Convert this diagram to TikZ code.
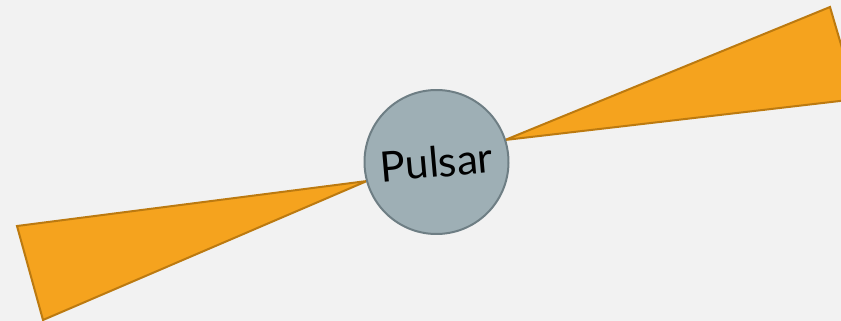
\documentclass[tikz,border=0pt]{standalone}
\usepackage{fontspec}
\setmainfont{Lato}
\definecolor{bg}{HTML}{F2F2F2}
\definecolor{beamfill}{HTML}{F5A31E}
\definecolor{beamline}{HTML}{BC7A10}
\definecolor{starfill}{HTML}{9EAFB5}
\definecolor{starline}{HTML}{6E7E84}
\begin{document}
\begin{tikzpicture}[x=1pt,y=-1pt,
  beam/.style={fill=beamfill,draw=beamline,line width=2pt,line join=miter},
  star/.style={circle,fill=starfill,draw=starline,line width=2pt,minimum size=144pt,inner sep=0pt,font=\fontsize{42}{46}\selectfont}]
\fill[bg] (0,0) rectangle (841,321);
\useasboundingbox (0,0) rectangle (841,321);
\coordinate (r1) at (505,140);
\coordinate (r2) at (830,7);
\coordinate (r3) at (857,99);
\coordinate (l1) at (367,181);
\coordinate (l2) at (17,226);
\coordinate (l3) at (43,320);
\draw[beam] (r1) -- (r2) -- (r3) -- cycle;
\draw[beam] (l1) -- (l2) -- (l3) -- cycle;
\node[star,rotate=5] (pulsar) at (436.5,162) {Pulsar};
\end{tikzpicture}
\end{document}
